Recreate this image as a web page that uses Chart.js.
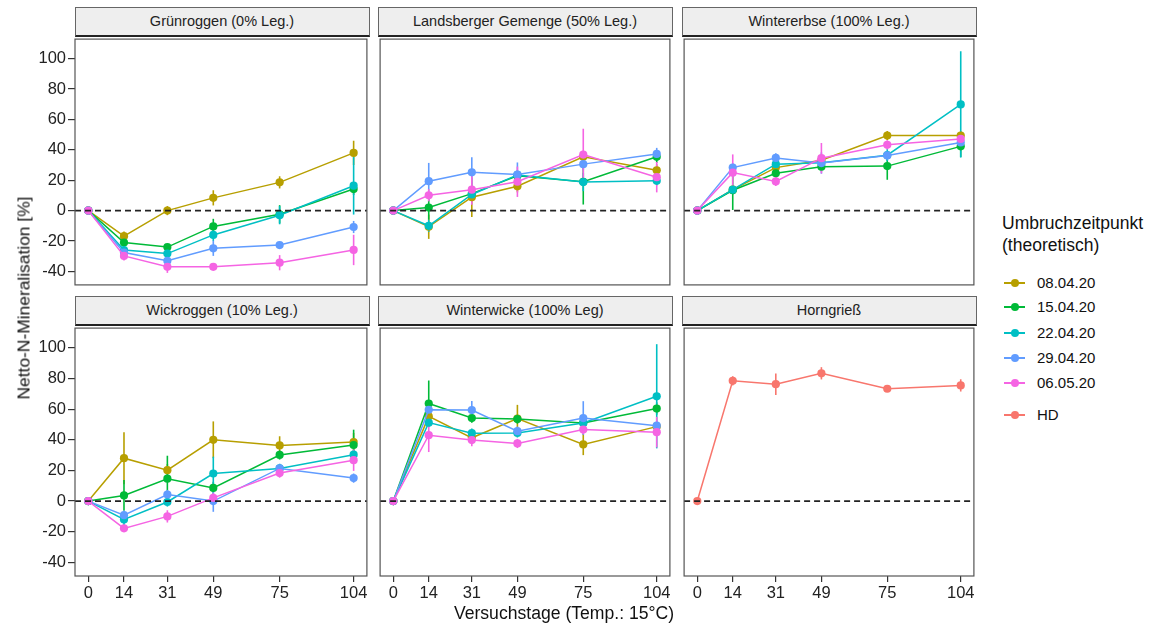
<!DOCTYPE html>
<html>
<head>
<meta charset="utf-8">
<script src="https://cdn.jsdelivr.net/npm/chart.js@4.4.1/dist/chart.umd.min.js"></script>
<style>
  html, body { margin:0; padding:0; background:#fff; }
  #wrap { position:relative; width:1163px; height:623px; overflow:hidden; font-family:"Liberation Sans", Arial, sans-serif; color:#1a1a1a; }
  canvas { position:absolute; }
  .strip { position:absolute; box-sizing:border-box; background:#EEEEEE; border:1px solid #666; border-bottom:2px solid #222; font-size:14.5px; color:#222; text-align:center; white-space:nowrap; }
  .ytitle { position:absolute; left:24px; top:298px; transform:translate(-50%,-50%) rotate(-90deg); font-size:17.4px; white-space:nowrap; color:#111; }
  .xtitle { position:absolute; left:564px; top:613px; transform:translate(-50%,-50%); font-size:17.6px; white-space:nowrap; color:#111; }
  .legtitle { position:absolute; left:1002px; top:212px; font-size:17.5px; line-height:22px; color:#111; }
  .legitem { position:absolute; left:1004px; font-size:15px; color:#111; height:18px; line-height:18px; }
  .legitem .ln { position:absolute; left:0; top:8px; width:21px; height:2px; }
  .legitem .pt { position:absolute; left:6.5px; top:5px; width:8px; height:8px; border-radius:50%; }
  .legitem .tx { position:absolute; left:33px; top:0; white-space:nowrap; }
</style>
</head>
<body>
<div id="wrap"></div>
<script>
// ---------- data ----------
const xDays = [0, 14, 31, 49, 75, 104];
const xTicks = [0, 14, 31, 49, 75, 104];
const yTicks = [-40, -20, 0, 20, 40, 60, 80, 100];
const seriesNames = ['08.04.20', '15.04.20', '22.04.20', '29.04.20', '06.05.20'];
const seriesColors = ['#B79F00', '#00BA38', '#00BFC4', '#619CFF', '#F564E3'];
const hdName = 'HD';
const hdColor = '#F8766D';
const panelTitles = ['Grünroggen (0% Leg.)', 'Landsberger Gemenge (50% Leg.)', 'Wintererbse (100% Leg.)',
                     'Wickroggen (10% Leg.)', 'Winterwicke (100% Leg)', 'Horngrieß'];

// rows = series (08.04, 15.04, 22.04, 29.04, 06.05), columns = days
const gruenroggen = [
  [0, -16.8, 0, 8.4, 18.6, 38],
  [0, -21, -24, -10.4, -2.4, 14.2],
  [0, -26, -28.3, -16, -3, 16.4],
  [0, -27.6, -33, -24.8, -22.7, -10.8],
  [0, -29.8, -37, -37, -34.3, -25.9]
];
const gruenroggenErr = [
  [0, 3, 3, 5, 4, 8],
  [0, 3, 2, 5, 6, 4],
  [0, 3, 3, 4, 6, 19],
  [0, 2, 3, 5, 2, 4],
  [0, 3, 4, 2, 5, 10]
];
const landsberger = [
  [0, -10.6, 8.8, 16, 35.4, 26.5],
  [0, 2, 11.2, 22.9, 19, 35.4],
  [0, -10, 10.6, 23.5, 18.8, 19.6],
  [0, 19.4, 25.2, 23.7, 30.6, 37.3],
  [0, 10.1, 13.8, 19, 36.9, 22]
];
const landsbergerErr = [
  [0, 8, 13, 4, 4, 4],
  [0, 8, 4, 3, 15, 4],
  [0, 4, 3, 3, 6, 3],
  [0, 12, 10, 8, 4, 4],
  [0, 4, 10, 10, 17, 10]
];
const wintererbse = [
  [0, 13.8, 28.3, 33.2, 49.4, 49.4],
  [0, 13.4, 24.6, 28.9, 29.3, 42.3],
  [0, 13.8, 30.6, 31.5, 36.5, 69.9],
  [0, 28.3, 34.7, 31.3, 36.3, 44.9],
  [0, 25, 19.2, 34.5, 43.3, 47.2]
];
const wintererbseErr = [
  [0, 3, 3, 3, 3, 3],
  [0, 13, 3, 3, 9, 7],
  [0, 3, 3, 3, 4, 35],
  [0, 3, 3, 7, 3, 4],
  [0, 12, 3, 10, 3, 4]
];
const wickroggen = [
  [0, 28, 20.2, 40, 36.3, 38.5],
  [0, 3.7, 14.6, 8.6, 30.1, 36.6],
  [0, -12, -0.6, 18, 21.3, 30.3],
  [0, -9.2, 4.3, 0, 21.3, 15],
  [0, -17.8, -10, 2.1, 18.3, 26.7]
];
const wickroggenErr = [
  [0, 17, 4, 12, 6, 6],
  [0, 10, 15, 4, 3, 10],
  [0, 4, 3, 11, 3, 3],
  [0, 3, 3, 7, 3, 3],
  [0, 2, 4, 3, 3, 7]
];
const winterwicke = [
  [0, 55.3, 41.3, 53.8, 37, 48.6],
  [0, 63.7, 54.2, 53.5, 51, 60.4],
  [0, 51.2, 44.3, 44.5, 51, 68.4],
  [0, 59.6, 59.4, 45.6, 54.2, 49.2],
  [0, 43, 39.8, 37.6, 46.7, 45]
];
const winterwickeErr = [
  [0, 4, 3, 9, 7, 3],
  [0, 15, 3, 3, 3, 4],
  [0, 3, 3, 3, 3, 34],
  [0, 3, 6, 3, 11, 3],
  [0, 11, 4, 3, 3, 10]
];
const horngriess = [0, 78.5, 76.3, 83.4, 73.3, 75.5];
const horngriessErr = [0, 3, 7, 4, 1, 4];

// ---------- layout ----------
const colLeft = [75, 378, 682];
const plotW = 294;
const rowTop = [37, 326];
const plotH = 250;
const stripH = 29;
const X_MIN = -5.2, X_MAX = 109.2;
const Y_MIN = -48.9, Y_MAX = 112.9;

const wrap = document.getElementById('wrap');

const errorBarPlugin = {
  id: 'errbars',
  beforeDatasetsDraw(chart) {
    const ctx = chart.ctx, xs = chart.scales.x, ys = chart.scales.y;
    ctx.save();
    chart.data.datasets.forEach((ds) => {
      if (!ds.err) return;
      ctx.strokeStyle = ds.borderColor;
      ctx.lineWidth = 1.6;
      ds.data.forEach((p, i) => {
        const e = ds.err[i];
        if (!e) return;
        const px = xs.getPixelForValue(p.x);
        ctx.beginPath();
        ctx.moveTo(px, ys.getPixelForValue(p.y - e));
        ctx.lineTo(px, ys.getPixelForValue(p.y + e));
        ctx.stroke();
      });
    });
    ctx.restore();
  },
  afterDatasetsDraw(chart) {
    const ctx = chart.ctx, a = chart.chartArea, ys = chart.scales.y;
    ctx.save();
    const y0 = ys.getPixelForValue(0);
    ctx.strokeStyle = '#222';
    ctx.lineWidth = 1.6;
    ctx.setLineDash([6, 4]);
    ctx.beginPath();
    ctx.moveTo(a.left, y0);
    ctx.lineTo(a.right, y0);
    ctx.stroke();
    ctx.setLineDash([]);
    ctx.strokeStyle = '#555';
    ctx.lineWidth = 1.2;
    ctx.strokeRect(a.left, a.top, a.right - a.left, a.bottom - a.top);
    ctx.restore();
  }
};

function makeDatasets(values, errs, names, colors) {
  return values.map((row, s) => ({
    label: names[s],
    data: xDays.map((d, i) => ({ x: d, y: row[i] })),
    err: errs[s],
    borderColor: colors[s],
    backgroundColor: colors[s],
    borderWidth: 1.5,
    pointRadius: 4.1,
    pointBorderWidth: 0,
    pointHoverRadius: 4.1,
    tension: 0,
    order: values.length - s
  }));
}

function zeroPad(s) {
  s.paddingTop = 0; s.paddingBottom = 0; s.paddingLeft = 0; s.paddingRight = 0;
}

function makePanel(idx, datasets) {
  const row = Math.floor(idx / 3), col = idx % 3;
  // strip
  const strip = document.createElement('div');
  strip.className = 'strip';
  strip.style.left = (colLeft[col] - 0.5) + 'px';
  strip.style.top = (rowTop[row] - stripH - 1) + 'px';
  strip.style.width = (plotW + 1) + 'px';
  strip.style.height = (stripH + 1) + 'px';
  strip.style.lineHeight = (stripH - 2) + 'px';
  strip.textContent = panelTitles[idx];
  wrap.appendChild(strip);

  const showX = row === 1, showY = col === 0;
  const L = showY ? 75 : 2;
  const B = showX ? 40 : 2;
  const cv = document.createElement('canvas');
  const w = L + plotW + 2, h = 2 + plotH + B;
  cv.width = w; cv.height = h;
  cv.style.left = (colLeft[col] - L) + 'px';
  cv.style.top = (rowTop[row] - 2) + 'px';
  cv.style.width = w + 'px'; cv.style.height = h + 'px';
  wrap.appendChild(cv);

  new Chart(cv, {
    type: 'line',
    data: { datasets },
    plugins: [errorBarPlugin],
    options: {
      responsive: false,
      animation: false,
      devicePixelRatio: 1,
      events: [],
      layout: { padding: { top: 2, right: 2, left: showY ? 0 : 2, bottom: showX ? 0 : 2 } },
      plugins: { legend: { display: false }, tooltip: { enabled: false } },
      scales: {
        x: {
          type: 'linear', min: X_MIN, max: X_MAX,
          display: showX,
          afterBuildTicks: (s) => { s.ticks = xTicks.map(v => ({ value: v })); },
          afterFit: (s) => { zeroPad(s); if (showX) s.height = 40; },
          grid: { drawOnChartArea: false, drawTicks: true, tickLength: 6, color: '#333', lineWidth: 1.2 },
          border: { display: false },
          ticks: { color: '#222', font: { family: 'Liberation Sans', size: 16.5 }, padding: 2, maxRotation: 0, autoSkip: false }
        },
        y: {
          type: 'linear', min: Y_MIN, max: Y_MAX,
          display: showY,
          afterBuildTicks: (s) => { s.ticks = yTicks.map(v => ({ value: v })); },
          afterFit: (s) => { zeroPad(s); if (showY) s.width = 75; },
          grid: { drawOnChartArea: false, drawTicks: true, tickLength: 7, color: '#333', lineWidth: 1.2 },
          border: { display: false },
          ticks: { color: '#222', font: { family: 'Liberation Sans', size: 16.5 }, padding: 2, autoSkip: false }
        }
      }
    }
  });
}

const panelValues = [gruenroggen, landsberger, wintererbse, wickroggen, winterwicke];
const panelErrs = [gruenroggenErr, landsbergerErr, wintererbseErr, wickroggenErr, winterwickeErr];
for (let p = 0; p < 5; p++) {
  makePanel(p, makeDatasets(panelValues[p], panelErrs[p], seriesNames, seriesColors));
}
makePanel(5, makeDatasets([horngriess], [horngriessErr], [hdName], [hdColor]));

// axis titles
const yt = document.createElement('div'); yt.className = 'ytitle'; yt.textContent = 'Netto-N-Mineralisation [%]'; wrap.appendChild(yt);
const xt = document.createElement('div'); xt.className = 'xtitle'; xt.textContent = 'Versuchstage (Temp.: 15°C)'; wrap.appendChild(xt);

// legend
const lt = document.createElement('div'); lt.className = 'legtitle';
lt.innerHTML = 'Umbruchzeitpunkt<br>(theoretisch)'; wrap.appendChild(lt);
const legNames = seriesNames.concat([hdName]);
const legColors = seriesColors.concat([hdColor]);
const legCenters = [283, 307, 333, 358, 383, 415];
legNames.forEach((n, i) => {
  const d = document.createElement('div'); d.className = 'legitem';
  d.style.top = (legCenters[i] - 9) + 'px';
  d.innerHTML = '<div class="ln" style="background:' + legColors[i] + '"></div><div class="pt" style="background:' + legColors[i] + '"></div><div class="tx">' + n + '</div>';
  wrap.appendChild(d);
});
</script>
</body>
</html>
